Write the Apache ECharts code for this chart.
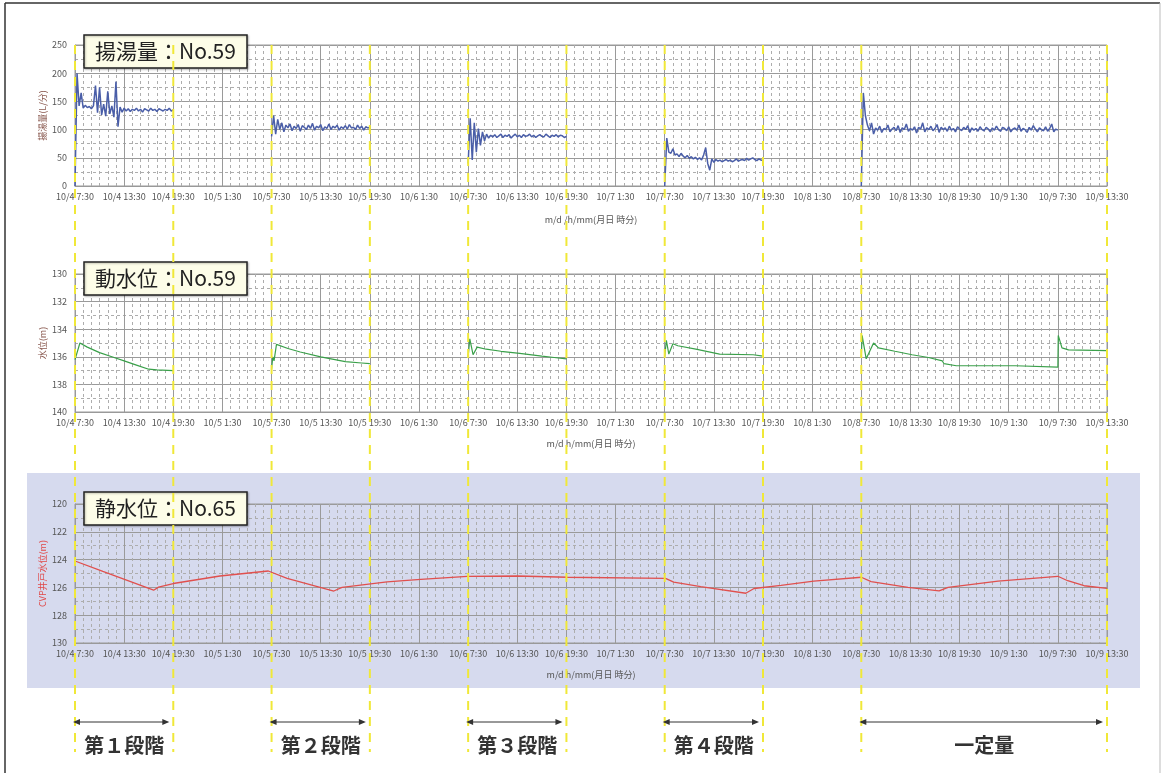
<!DOCTYPE html>
<html>
<head>
<meta charset="utf-8">
<script src="https://cdn.jsdelivr.net/npm/echarts@6/dist/echarts.min.js"></script>
<style>
html, body { margin: 0; padding: 0; background: #fff; }
#chart { width: 1164px; height: 773px; }
</style>
</head>
<body>
<div id="chart"></div>
<script>
// x is hours after 10/4 7:30, one tick label every 6 hours
const tickLabels = ['10/4 7:30', '10/4 13:30', '10/4 19:30', '10/5 1:30', '10/5 7:30', '10/5 13:30', '10/5 19:30',
    '10/6 1:30', '10/6 7:30', '10/6 13:30', '10/6 19:30', '10/7 1:30', '10/7 7:30', '10/7 13:30', '10/7 19:30',
    '10/8 1:30', '10/8 7:30', '10/8 13:30', '10/8 19:30', '10/9 1:30', '10/9 7:30', '10/9 13:30'];

// pumping steps (hours)
const stepNames = ['第１段階', '第２段階', '第３段階', '第４段階', '一定量'];
const stepStart = [0, 24, 48, 72, 96];
const stepEnd = [12, 36, 60, 84, 126];
const boundaries = [0, 12, 24, 36, 48, 60, 72, 84, 96, 126];

// 揚湯量 (L/分), evenly sampled inside each step
const flowStart = [0, 24, 48, 72, 96];
const flowEnd = [12, 36, 60, 84, 120];
const flow1 = [0, 200, 142, 165, 138, 143, 139, 141, 137, 142, 178, 130, 175, 126, 145, 124, 168, 128, 142, 122,
    185, 105, 140, 131, 138, 133, 137, 132, 136, 134, 138, 133, 136, 131, 137, 135, 133, 138, 134, 136,
    132, 137, 135, 133, 136, 134, 138, 133, 135];
const flow2 = [88, 125, 92, 118, 100, 112, 96, 108, 103, 110, 98, 106, 102, 109, 97, 107, 104, 100, 108, 102,
    111, 99, 106, 103, 109, 98, 105, 102, 110, 100, 106, 103, 108, 99, 105, 102, 107, 101, 109, 103,
    104, 100, 108, 102, 106, 99, 105, 103, 104];
const flow3 = [40, 120, 46, 112, 60, 102, 72, 96, 80, 92, 85, 90, 87, 91, 86, 89, 92, 86, 90, 88,
    91, 85, 89, 92, 87, 90, 86, 91, 88, 89, 92, 87, 90, 86, 89, 91, 88, 87, 92, 89,
    86, 90, 88, 91, 87, 90, 89, 86, 88];
const flow4 = [0, 85, 60, 58, 66, 55, 57, 52, 58, 53, 50, 54, 49, 52, 48, 51, 47, 50, 46, 55,
    68, 40, 28, 48, 42, 47, 44, 46, 43, 45, 47, 44, 46, 43, 45, 48, 44, 46, 47, 45,
    49, 46, 48, 50, 47, 45, 48, 46, 45];
const flow5 = [0, 165, 125, 108, 98, 112, 92, 103, 99, 106, 95, 102, 100, 108, 96, 101, 104, 98, 107, 95,
    103, 100, 110, 97, 102, 99, 105, 94, 104, 101, 112, 96, 103, 100, 106, 98, 102, 109, 95, 104,
    100, 103, 97, 106, 99, 102, 96, 105, 101, 98, 104, 100, 107, 95, 103, 99, 102, 97, 105, 100,
    98, 104, 101, 96, 103, 99, 106, 100, 97, 104, 102, 98, 105, 96, 101, 103, 99, 108, 97, 102,
    100, 95, 104, 99, 107, 101, 96, 103, 100, 98, 105, 97, 102, 110, 96, 101, 99];
const flows = [flow1, flow2, flow3, flow4, flow5];

// 動水位 No.59 (m), [hour, level]
const dyn1 = [[0, 136.2], [0.6, 135.0], [1.5, 135.3], [3, 135.7], [4.5, 136.0], [6, 136.3], [7.5, 136.6],
    [9, 136.9], [10, 136.95], [12, 137.0]];
const dyn2 = [[24, 136.9], [24.15, 136.0], [24.3, 136.3], [24.6, 135.1], [26, 135.4], [27.5, 135.65],
    [30, 136.0], [33, 136.35], [35, 136.45], [36, 136.5]];
const dyn3 = [[48, 136.0], [48.2, 134.7], [48.6, 135.85], [49.1, 135.3], [50.2, 135.45], [52, 135.6],
    [54.3, 135.75], [57, 135.95], [58.5, 136.05], [60, 136.15]];
const dyn4 = [[72, 136.0], [72.2, 134.8], [72.5, 135.8], [73, 135.05], [73.6, 135.2], [75.8, 135.45],
    [78.7, 135.8], [82.8, 135.85], [84, 135.95]];
const dyn5 = [[96, 136.0], [96.1, 134.45], [96.6, 136.15], [97.5, 135.0], [98.1, 135.35], [100.1, 135.6],
    [102.2, 135.85], [104.2, 136.05], [105.9, 136.3], [106.1, 136.5], [107.6, 136.65], [114.8, 136.65],
    [115, 136.72], [120, 136.75], [120.05, 134.45], [120.5, 135.35], [121.3, 135.5], [126, 135.55]];
const dyns = [dyn1, dyn2, dyn3, dyn4, dyn5];

// 静水位 No.65 (m), [hour, level]
const staticLevel = [[0, 124.1], [3.4, 124.85], [9.6, 126.2], [10.2, 125.98], [12, 125.72], [17.7, 125.18],
    [23.6, 124.82], [25.9, 125.35], [31.6, 126.26], [32.6, 126.0], [38.1, 125.6], [42.2, 125.42],
    [47.9, 125.2], [54, 125.18], [60.1, 125.27], [72.1, 125.35], [73.1, 125.62], [76.4, 125.95],
    [81.9, 126.42], [82.9, 126.08], [86.2, 125.85], [90.2, 125.55], [96, 125.27], [97.2, 125.58],
    [101.7, 126.0], [105.5, 126.25], [106.6, 126.0], [112.7, 125.55], [120, 125.2], [121.2, 125.52],
    [123.2, 125.88], [126, 126.07]];

const FONT = '"Noto Sans CJK JP", "Noto Sans", sans-serif';
const grids = [
    { left: 75, right: 57, top: 45, height: 141 },
    { left: 75, right: 57, top: 274, height: 138 },
    { left: 75, right: 57, top: 504, height: 139 }
];

function evenSeg(start, end, values) {
    const step = (end - start) / (values.length - 1);
    return values.map((v, i) => [start + i * step, v]);
}

function makeX(gridIndex, name) {
    return {
        type: 'value', gridIndex: gridIndex, min: 0, max: 126, interval: 6,
        name: name, nameLocation: 'middle', nameGap: gridIndex === 0 ? 29 : 27, nameMoveOverlap: false,
        nameTextStyle: { fontSize: 9, color: '#555', fontFamily: FONT },
        axisLine: { show: true, lineStyle: { color: '#999' } },
        axisTick: { show: false },
        minorTick: { show: false, splitNumber: 6 },
        axisLabel: { fontSize: 9, color: '#555', margin: 6, fontFamily: FONT,
            formatter: v => tickLabels[Math.round(v / 6)] },
        splitLine: { show: true, lineStyle: { color: '#9a9a9a', width: 1 } },
        minorSplitLine: { show: true, lineStyle: { color: '#adadad', width: 1, type: [3, 3] } }
    };
}

function makeY(gridIndex, min, max, interval, inverse, name, nameColor) {
    return {
        type: 'value', gridIndex: gridIndex, min: min, max: max, interval: interval, inverse: inverse,
        name: name, nameLocation: 'middle', nameRotate: 90, nameGap: 28, nameMoveOverlap: false,
        nameTextStyle: { fontSize: 9, color: nameColor, fontFamily: FONT },
        axisLine: { show: true, lineStyle: { color: '#999' } },
        axisTick: { show: false },
        minorTick: { show: false, splitNumber: 2 },
        axisLabel: { fontSize: 9, color: '#555', margin: 8, fontFamily: FONT },
        splitLine: { show: true, lineStyle: { color: '#9a9a9a', width: 1 } },
        minorSplitLine: { show: true, lineStyle: { color: '#adadad', width: 1, type: [3, 3] } }
    };
}

function lineSeries(gridIndex, data, color, width) {
    return {
        type: 'line', xAxisIndex: gridIndex, yAxisIndex: gridIndex, data: data,
        showSymbol: false, symbol: 'none', silent: true, animation: false,
        lineStyle: { color: color, width: width }
    };
}

function boxTitle(text, top) {
    return {
        text: text, left: 84, top: top,
        backgroundColor: '#fdfde8', borderColor: '#222', borderWidth: 1.5,
        padding: [6, 11],
        shadowColor: 'rgba(0,0,0,0.25)', shadowBlur: 2, shadowOffsetX: 1, shadowOffsetY: 1,
        textStyle: { fontSize: 21, fontWeight: 'normal', color: '#222', fontFamily: FONT }
    };
}

const series = [];
flows.forEach((f, i) => series.push(lineSeries(0, evenSeg(flowStart[i], flowEnd[i], f), '#4a5ea8', 1.5)));
dyns.forEach(d => series.push(lineSeries(1, d, '#3aa04a', 1.2)));
series.push(lineSeries(2, staticLevel, '#e0504e', 1.3));

const chart = echarts.init(document.getElementById('chart'));
chart.setOption({
    animation: false,
    backgroundColor: 'transparent',
    textStyle: { fontFamily: FONT },
    title: [boxTitle('揚湯量：No.59', 35), boxTitle('動水位：No.59', 262), boxTitle('静水位：No.65', 492)],
    grid: grids.map(g => Object.assign({ show: true, borderColor: '#9a9a9a', borderWidth: 1 }, g)),
    xAxis: [makeX(0, 'm/d /h/mm(月日 時分)'), makeX(1, 'm/d h/mm(月日 時分)'), makeX(2, 'm/d h/mm(月日 時分)')],
    yAxis: [
        makeY(0, 0, 250, 50, false, '揚湯量(L/分)', '#8a5a50'),
        makeY(1, 130, 140, 2, true, '水位(m)', '#8a5a50'),
        makeY(2, 120, 130, 2, true, 'CVP井戸水位(m)', '#e04848')
    ],
    series: series
});

// overlays placed through the x axis scale
const px = h => chart.convertToPixel({ xAxisIndex: 0 }, h);
const elements = [
    { type: 'rect', z: -10, silent: true, shape: { x: 27, y: 473, width: 1113, height: 215 }, style: { fill: '#d6daee' } },
    { type: 'line', z: 20, shape: { x1: 5, y1: 3, x2: 1160, y2: 3 }, style: { stroke: '#333', lineWidth: 1.5 } },
    { type: 'line', z: 20, shape: { x1: 5, y1: 3, x2: 5, y2: 773 }, style: { stroke: '#333', lineWidth: 1.5 } },
    { type: 'line', z: 20, shape: { x1: 1160, y1: 3, x2: 1160, y2: 773 }, style: { stroke: '#bbb', lineWidth: 1 } }
];
boundaries.forEach(h => {
    const x = px(h);
    elements.push({ type: 'line', z: 10, silent: true, shape: { x1: x, y1: 45, x2: x, y2: 752 },
        style: { stroke: '#f0e838', lineWidth: 2, lineDash: [9, 7] } });
});
stepNames.forEach((name, i) => {
    const x1 = px(stepStart[i]) - 2, x2 = px(stepEnd[i]) - 4, y = 722;
    elements.push({ type: 'line', z: 10, shape: { x1: x1 + 2, y1: y, x2: x2 - 2, y2: y }, style: { stroke: '#333', lineWidth: 1 } });
    elements.push({ type: 'polygon', z: 10, shape: { points: [[x1, y], [x1 + 7, y - 3], [x1 + 7, y + 3]] }, style: { fill: '#333' } });
    elements.push({ type: 'polygon', z: 10, shape: { points: [[x2, y], [x2 - 7, y - 3], [x2 - 7, y + 3]] }, style: { fill: '#333' } });
    elements.push({ type: 'text', z: 10, x: (px(stepStart[i]) + px(stepEnd[i])) / 2, y: 745,
        style: { text: name, fill: '#333', font: 'bold 20px ' + FONT, textAlign: 'center', textVerticalAlign: 'middle' } });
});
chart.setOption({ graphic: { elements: elements } });
</script>
</body>
</html>
